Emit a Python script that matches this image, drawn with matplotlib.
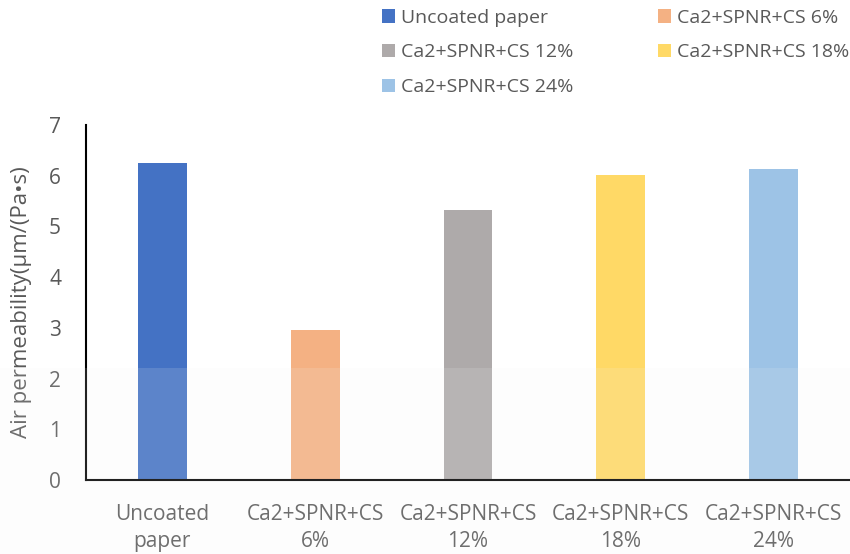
import matplotlib.pyplot as plt
from matplotlib.patches import Rectangle

plt.rcParams['font.family'] = ['Open Sans', 'DejaVu Sans']

# air permeability of each paper sample
categories = ["Uncoated paper", "Ca2+SPNR+CS 6%", "Ca2+SPNR+CS 12%",
              "Ca2+SPNR+CS 18%", "Ca2+SPNR+CS 24%"]
tick_labels = ["Uncoated\npaper", "Ca2+SPNR+CS\n6%", "Ca2+SPNR+CS\n12%",
               "Ca2+SPNR+CS\n18%", "Ca2+SPNR+CS\n24%"]
values = [6.25, 2.96, 5.33, 6.02, 6.13]
colors = ["#4472C4", "#F4B183", "#AEAAAA", "#FFD966", "#9DC3E6"]

text_col = "#595959"

fig = plt.figure(figsize=(8.5, 5.54), dpi=100)
ax = fig.add_axes([86 / 850, 1 - 480 / 554, 764 / 850, 355 / 554])

x = range(len(values))
bars = ax.bar(x, values, width=0.32, color=colors, label=categories)

ax.set_xlim(-0.5, len(values) - 0.5)
ax.set_ylim(0, 7)
ax.set_yticks(range(8))
ax.set_xticks(list(x))
ax.set_xticklabels(tick_labels, fontsize=15, color=text_col, linespacing=1.4)
ax.tick_params(axis='y', labelsize=15, labelcolor=text_col, length=0, pad=18)
ax.tick_params(axis='x', length=0, pad=17)
for s in ["top", "right"]:
    ax.spines[s].set_visible(False)
for s in ["left", "bottom"]:
    ax.spines[s].set_linewidth(1.5)
    ax.spines[s].set_color("black")

ax.set_ylabel("Air permeability(μm/(Pa•s)", fontsize=16, color=text_col)
ax.yaxis.set_label_coords(-0.071, 0.5)

# legend in two columns above the plot, filled row by row
order = [0, 2, 4, 1, 3]
handles = [bars[i] for i in order]
labels = [categories[i] for i in order]
leg = fig.legend(handles, labels, ncol=2, loc="upper left",
                 bbox_to_anchor=(373 / 850, 1.0), frameon=False,
                 fontsize=14, handlelength=0.68, handleheight=0.68,
                 handletextpad=0.3, columnspacing=4.35, labelspacing=0.86,
                 borderaxespad=0.0, borderpad=0.45)
for t in leg.get_texts():
    t.set_color(text_col)

# faint haze over the lower part of the figure
fig.patches.append(Rectangle((0, 0), 1, 1 - 368 / 554, transform=fig.transFigure,
                             facecolor="#f2f2f2", alpha=0.14, edgecolor="none",
                             zorder=10))

fig.savefig("out.png", dpi=100)
